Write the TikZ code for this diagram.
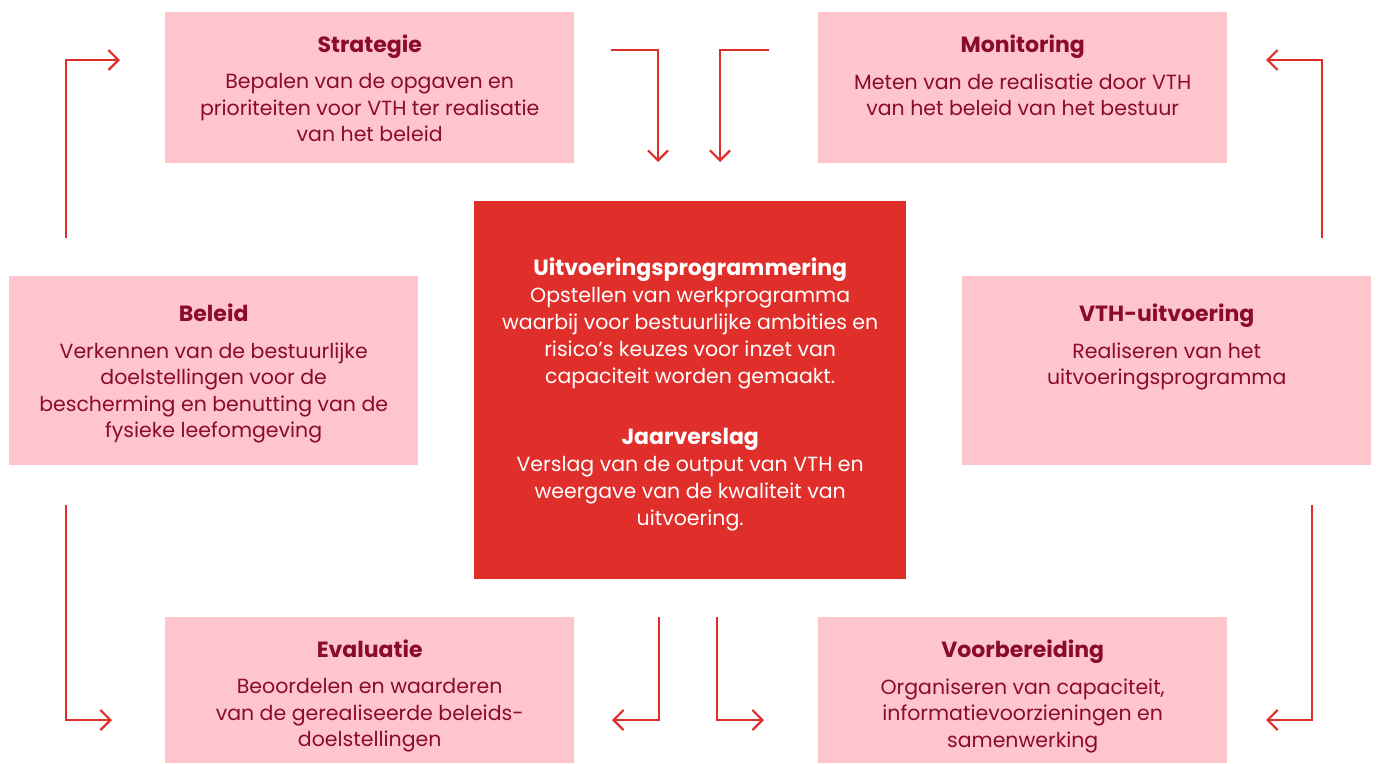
\documentclass[tikz,border=0pt]{standalone}
\usepackage{fontspec}
\setmainfont{Poppins}
\usetikzlibrary{arrows.meta}
\definecolor{vthpink}{HTML}{FFC5CC}
\definecolor{vthwine}{HTML}{8A0B2B}
\definecolor{vthred}{HTML}{E02E2B}
\tikzset{
  blok/.style={rectangle, fill=vthpink, inner sep=0pt, anchor=north west},
  kop/.style={anchor=base, inner sep=0pt, text=vthwine, font=\bfseries\fontsize{22}{26}\selectfont},
  tekst/.style={anchor=north, align=center, inner sep=0pt, text=vthwine, font=\fontsize{20.5}{26.5}\selectfont},
  pijl/.style={draw=vthred, line width=2.2pt, -{Straight Barb[length=10pt,width=20pt]}}
}
\begin{document}
\begin{tikzpicture}[x=1pt,y=-1pt]
\useasboundingbox (0,0) rectangle (1376,763);
% roze blokken
\foreach \x/\y/\w/\h/\n in {165/12/409/151/strategie, 818/12/409/151/monitoring, 9/276/409/189/beleid, 962/276/409/189/vth, 165/617/409/146/evaluatie, 818/617/409/146/voorbereiding}
  \node[blok, minimum width=\w pt, minimum height=\h pt] (\n) at (\x,\y) {};
\foreach \n/\d/\t in {strategie/40/Strategie, monitoring/40/Monitoring, beleid/45/Beleid, vth/45/VTH-uitvoering, evaluatie/40/Evaluatie, voorbereiding/40/Voorbereiding}
  \node[kop] (\n-kop) at ([yshift=-\d pt]\n.north) {\t};
\node[tekst] (strategie-tekst) at ([yshift=-21.5pt]strategie-kop.base) {Bepalen van de opgaven en\\prioriteiten voor VTH ter realisatie\\van het beleid};
\node[tekst] (monitoring-tekst) at ([yshift=-21.5pt]monitoring-kop.base) {Meten van de realisatie door VTH\\van het beleid van het bestuur};
\node[tekst] (beleid-tekst) at ([yshift=-21.5pt]beleid-kop.base) {Verkennen van de bestuurlijke\\doelstellingen voor de\\bescherming en benutting van de\\fysieke leefomgeving};
\node[tekst] (vth-tekst) at ([yshift=-21.5pt]vth-kop.base) {Realiseren van het\\uitvoeringsprogramma};
\node[tekst] (evaluatie-tekst) at ([yshift=-21.5pt]evaluatie-kop.base) {Beoordelen en waarderen\\van de gerealiseerde beleids-\\doelstellingen};
\node[tekst] (voorbereiding-tekst) at ([yshift=-21.5pt]voorbereiding-kop.base) {Organiseren van capaciteit,\\informatievoorzieningen en\\samenwerking};

% rood midden
\node[blok, fill=vthred, minimum width=432pt, minimum height=378pt] (kern) at (474,201) {};
\node[kop, text=white] (uitv-kop) at ([yshift=-74pt]kern.north) {Uitvoeringsprogrammering};
\node[tekst, text=white, font=\fontsize{20.5}{27}\selectfont] (uitv-tekst) at ([yshift=-12pt]uitv-kop.base) {Opstellen van werkprogramma\\waarbij voor bestuurlijke ambities en\\risico’s keuzes voor inzet van\\capaciteit worden gemaakt.};
\node[kop, text=white] (jaar-kop) at ([yshift=-243pt]kern.north) {Jaarverslag};
\node[tekst, text=white, font=\fontsize{20.5}{27}\selectfont] (jaar-tekst) at ([yshift=-12pt]jaar-kop.base) {Verslag van de output van VTH en\\weergave van de kwaliteit van\\uitvoering.};

% pijlen
\foreach \n/\x/\y in {lb-s/66/238, lb-e/120/60, lo-s/66/505, lo-e/112/720, rb-s/1322/238, rb-e/1266/60, ro-s/1312/505, ro-e/1266/720, mb1-s/611/50, mb1-e/658/162, mb2-s/769/50, mb2-e/720/162, mo1-s/659/617, mo1-e/612/720, mo2-s/717/617, mo2-e/764/720}
  \coordinate (\n) at (\x,\y);
\foreach \s/\t in {lb-s/lb-e, lo-s/lo-e, rb-s/rb-e, ro-s/ro-e, mo1-s/mo1-e, mo2-s/mo2-e}
  \draw[pijl] (\s) |- (\t);
\foreach \s/\t in {mb1-s/mb1-e, mb2-s/mb2-e}
  \draw[pijl] (\s) -| (\t);
\end{tikzpicture}
\end{document}
